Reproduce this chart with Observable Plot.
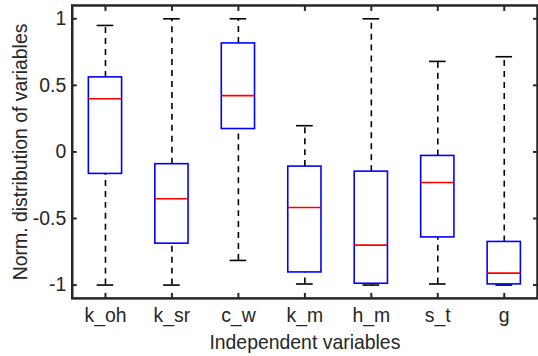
<!DOCTYPE html>
<html><head><meta charset="utf-8">
<script src="https://cdn.jsdelivr.net/npm/d3@7"></script>
<script src="https://cdn.jsdelivr.net/npm/@observablehq/plot@0.6"></script>
<style>html,body{margin:0;padding:0;background:#fff;overflow:hidden}</style>
</head><body><div id="chart"></div>
<script>
const categories = ["k_oh", "k_sr", "c_w", "k_m", "h_m", "s_t", "g"];
const upperWhisker = [0.95, 1.0, 1.0, 0.197, 1.0, 0.68, 0.715];
const upperQuartile = [0.56, -0.092, 0.815, -0.11, -0.148, -0.03, -0.676];
const medians = [0.40, -0.352, 0.423, -0.417, -0.70, -0.23, -0.91];
const lowerQuartile = [-0.165, -0.689, 0.172, -0.905, -0.99, -0.642, -0.995];
const lowerWhisker = [-1.0, -1.0, -0.815, -0.992, -1.0, -0.992, -1.0];
const yTicks = [-1, -0.5, 0, 0.5, 1];

const data = categories.map((name, k) => ({
  name, i: k + 1,
  hi: upperWhisker[k], q3: upperQuartile[k], med: medians[k],
  q1: lowerQuartile[k], lo: lowerWhisker[k]
}));
const xTicks = data.map(d => d.i);
const ink = "#262626";
const font = "'Liberation Sans', Arial, Helvetica, sans-serif";
const boxHalf = 0.25, capHalf = 0.125;

const chart = Plot.plot({
  width: 540, height: 356,
  marginLeft: 72, marginRight: 1, marginTop: 5, marginBottom: 57,
  style: {fontFamily: font, fontSize: "19.5px", color: ink, background: "#fff"},
  x: {type: "linear", domain: [0.5, 7.5]},
  y: {domain: [-1.1, 1.1]},
  marks: [
    Plot.ruleX(data, {x: "i", y1: "q3", y2: "hi", stroke: "#000", strokeWidth: 1.6, strokeDasharray: "6,5"}),
    Plot.ruleX(data, {x: "i", y1: "lo", y2: "q1", stroke: "#000", strokeWidth: 1.6, strokeDasharray: "6,5"}),
    Plot.ruleY(data, {y: "hi", x1: d => d.i - capHalf, x2: d => d.i + capHalf, stroke: "#000", strokeWidth: 1.6}),
    Plot.ruleY(data, {y: "lo", x1: d => d.i - capHalf, x2: d => d.i + capHalf, stroke: "#000", strokeWidth: 1.6}),
    Plot.rect(data, {x1: d => d.i - boxHalf, x2: d => d.i + boxHalf, y1: "q1", y2: "q3", fill: "none", stroke: "#0000ff", strokeWidth: 1.6}),
    Plot.ruleY(data, {y: "med", x1: d => d.i - boxHalf, x2: d => d.i + boxHalf, stroke: "#ff0000", strokeWidth: 1.6}),
    Plot.axisX({ticks: xTicks, tickFormat: i => categories[i - 1], tickSize: -5, tickPadding: 15, strokeWidth: 2,
      label: "Independent variables", labelAnchor: "center", labelOffset: 51, labelArrow: "none"}),
    Plot.axisX({anchor: "top", ticks: xTicks, tickFormat: () => "", tickSize: -5, strokeWidth: 2, label: null}),
    Plot.axisY({ticks: yTicks, tickFormat: d => String(d), tickSize: -5, tickPadding: 11, strokeWidth: 2,
      label: "Norm. distribution of variables", labelAnchor: "center", labelOffset: 59, labelArrow: "none"}),
    Plot.axisY({anchor: "right", ticks: yTicks, tickFormat: () => "", tickSize: -5, strokeWidth: 2, label: null}),
    Plot.frame({stroke: ink, strokeWidth: 2.5})
  ]
});
document.getElementById("chart").appendChild(chart);
</script>
</body></html>
